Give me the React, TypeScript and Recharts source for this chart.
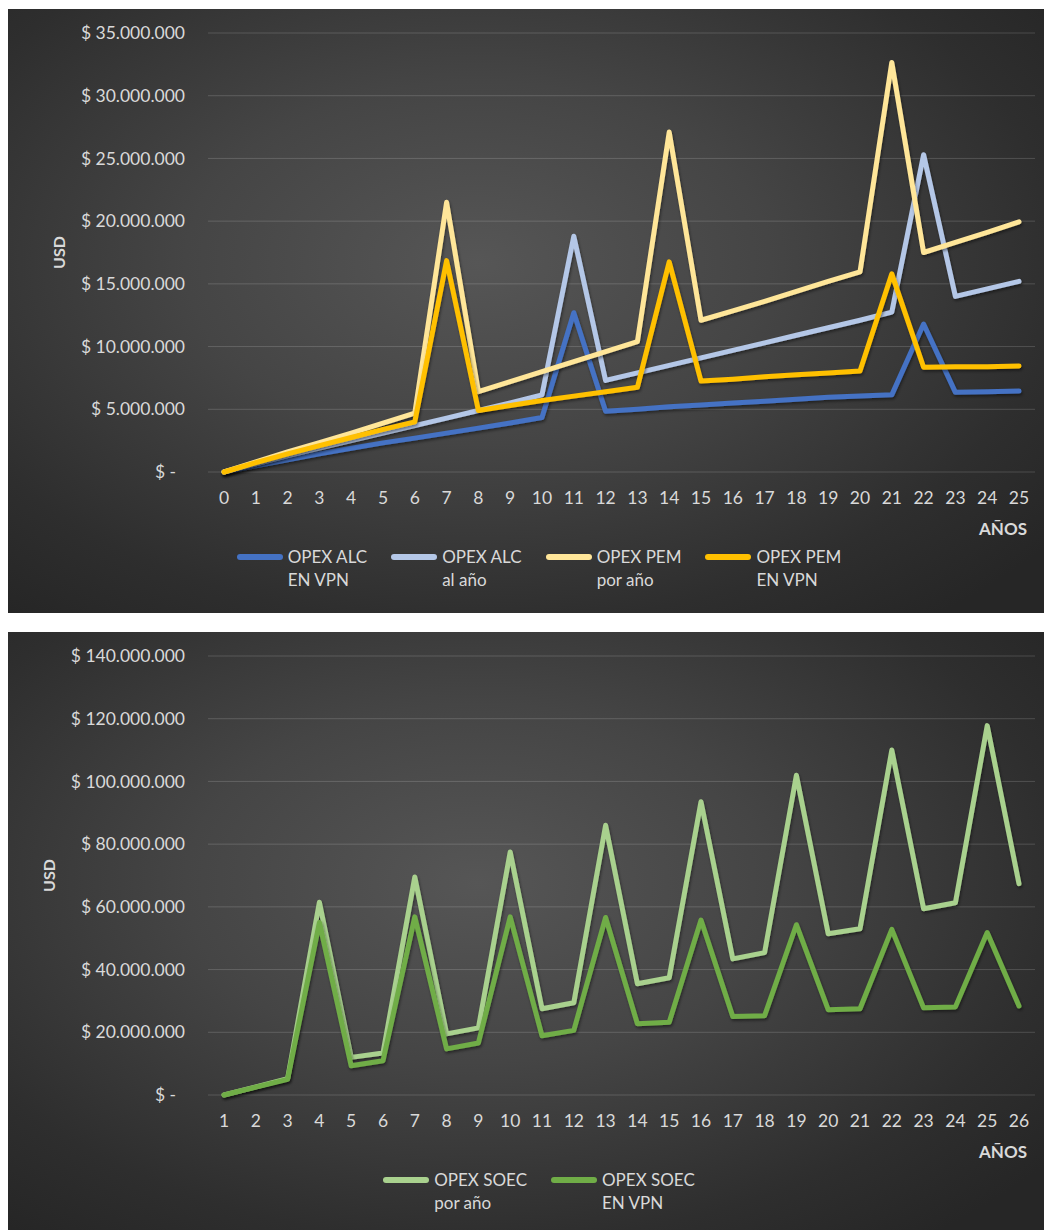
import { LineChart, Line, XAxis, YAxis, CartesianGrid, Legend } from 'recharts';

// values in millions of USD
const pemYears = [0, 1, 2, 3, 4, 5, 6, 7, 8, 9, 10, 11, 12, 13, 14, 15, 16, 17, 18, 19, 20, 21, 22, 23, 24, 25];
const alcVpn = [0, 0.5, 0.98, 1.45, 1.9, 2.32, 2.7, 3.1, 3.5, 3.9, 4.35, 12.7, 4.85, 5.0, 5.2, 5.35, 5.5, 5.65, 5.8, 5.95, 6.05, 6.15, 11.8, 6.35, 6.4, 6.45];
const alcAno = [0, 0.65, 1.3, 1.9, 2.5, 3.1, 3.7, 4.3, 4.9, 5.5, 6.15, 18.8, 7.3, 7.9, 8.5, 9.1, 9.7, 10.3, 10.9, 11.5, 12.1, 12.75, 25.3, 14.0, 14.6, 15.2];
const pemAno = [0, 0.8, 1.6, 2.35, 3.1, 3.9, 4.7, 21.5, 6.4, 7.2, 8.0, 8.8, 9.6, 10.4, 27.1, 12.1, 12.85, 13.6, 14.4, 15.2, 15.95, 32.65, 17.5, 18.3, 19.1, 19.95];
const pemVpn = [0, 0.75, 1.45, 2.1, 2.75, 3.4, 4.0, 16.85, 4.9, 5.3, 5.7, 6.05, 6.4, 6.75, 16.75, 7.25, 7.4, 7.6, 7.75, 7.9, 8.05, 15.8, 8.35, 8.4, 8.4, 8.45];
const pemTicks = [0, 5, 10, 15, 20, 25, 30, 35];

const soecYears = [1, 2, 3, 4, 5, 6, 7, 8, 9, 10, 11, 12, 13, 14, 15, 16, 17, 18, 19, 20, 21, 22, 23, 24, 25, 26];
const soecAno = [0, 2.6, 5.2, 61.5, 12.0, 13.4, 69.5, 19.5, 21.4, 77.5, 27.5, 29.4, 86.0, 35.5, 37.4, 93.5, 43.4, 45.4, 102.0, 51.4, 53.0, 110.0, 59.4, 61.3, 117.8, 67.4];
const soecVpn = [0, 2.5, 5.0, 55.0, 9.3, 10.9, 56.8, 14.7, 16.6, 56.8, 18.9, 20.6, 56.6, 22.7, 23.2, 55.8, 25.0, 25.3, 54.3, 27.2, 27.5, 52.8, 27.8, 28.1, 51.8, 28.4];
const soecTicks = [0, 20, 40, 60, 80, 100, 120, 140];

type Serie = { key: string; color: string; lines: [string, string]; values: number[] };

const pemSeries: Serie[] = [
  { key: 'alcVpn', color: '#4472C4', lines: ['OPEX ALC', 'EN VPN'], values: alcVpn },
  { key: 'alcAno', color: '#B4C7E7', lines: ['OPEX ALC', 'al año'], values: alcAno },
  { key: 'pemAno', color: '#FFE699', lines: ['OPEX PEM', 'por año'], values: pemAno },
  { key: 'pemVpn', color: '#FFC000', lines: ['OPEX PEM', 'EN VPN'], values: pemVpn },
];

const soecSeries: Serie[] = [
  { key: 'soecAno', color: '#A9D18E', lines: ['OPEX SOEC', 'por año'], values: soecAno },
  { key: 'soecVpn', color: '#70AD47', lines: ['OPEX SOEC', 'EN VPN'], values: soecVpn },
];

const TEXT = '#d9d9d9';
const FONT = 'Lato, "Open Sans", sans-serif';
const BG = 'radial-gradient(ellipse 70% 75% at 45% 42%, #565656 0%, #454545 40%, #2e2e2e 80%, #262626 100%)';

const formatUsd = (v: number) => {
  if (v === 0) return '$ -\u00A0\u00A0';
  const s = String(Math.round(v * 1000000)).replace(/\B(?=(\d{3})+(?!\d))/g, '.');
  return '$ ' + s;
};

function OpexChart({ id, years, series, yTicks, usdX }: { id: string; years: number[]; series: Serie[]; yTicks: number[]; usdX: number }) {
  const data = years.map((y, i) => {
    const row: Record<string, number> = { year: y };
    series.forEach((s) => { row[s.key] = s.values[i]; });
    return row;
  });

  // keep the series order (Recharts sorts the payload by name)
  const renderLegend = () => (
    <div style={{ display: 'flex', justifyContent: 'center', gap: 24, paddingLeft: 18, fontFamily: FONT }}>
      {series.map((s) => (
        <div key={s.key} style={{ display: 'flex', alignItems: 'flex-start' }}>
          <span style={{ display: 'inline-block', width: 46, height: 6, borderRadius: 3, background: s.color, marginTop: 9, marginRight: 5 }} />
          <div style={{ color: TEXT, fontSize: 17, lineHeight: '23px', textAlign: 'left' }}>
            {s.lines[0]}<br />{s.lines[1]}
          </div>
        </div>
      ))}
    </div>
  );

  const usdLabel = (props: any) => {
    const vb = props.viewBox || { x: 0, y: 24, width: 200, height: 439 };
    const x = vb.x + usdX;
    const y = vb.y + vb.height / 2;
    return (
      <text x={x} y={y} transform={`rotate(-90, ${x}, ${y})`} textAnchor="middle" dominantBaseline="central"
        fill={TEXT} fontSize={16} fontWeight="bold" fontFamily={FONT}>USD</text>
    );
  };

  return (
    <LineChart width={1044} height={604} data={data} margin={{ top: 24, right: 17, left: 0, bottom: 70 }}>
      <defs>
        <filter id={`shadow-${id}`} x="-10%" y="-10%" width="120%" height="130%">
          <feDropShadow dx="1" dy="2" stdDeviation="1.5" floodColor="#000" floodOpacity="0.45" />
        </filter>
      </defs>
      <CartesianGrid vertical={false} stroke="rgba(255,255,255,0.16)" strokeWidth={1} />
      <XAxis
        dataKey="year"
        interval={0}
        axisLine={false}
        tickLine={false}
        tickSize={0}
        tickMargin={20}
        height={71}
        padding={{ left: 16, right: 16 }}
        tick={{ fill: TEXT, fontSize: 17.5, fontFamily: FONT }}
        label={{ value: 'AÑOS', position: 'insideBottomRight', offset: 8, fill: TEXT, fontSize: 17, fontWeight: 'bold', fontFamily: FONT }}
      />
      <YAxis
        width={200}
        domain={[0, yTicks[yTicks.length - 1]]}
        ticks={yTicks}
        interval={0}
        axisLine={false}
        tickLine={false}
        tickSize={0}
        tickMargin={23}
        tickFormatter={formatUsd}
        tick={{ fill: TEXT, fontSize: 17.5, fontFamily: FONT }}
        label={usdLabel}
      />
      <Legend
        layout="horizontal"
        align="center"
        verticalAlign="middle"
        content={renderLegend}
        wrapperStyle={{ left: 0, top: 536, width: 1044 }}
      />
      {series.map((s) => (
        <Line
          key={s.key}
          type="linear"
          dataKey={s.key}
          stroke={s.color}
          strokeWidth={5}
          strokeLinejoin="round"
          strokeLinecap="round"
          dot={false}
          activeDot={false}
          filter={`url(#shadow-${id})`}
          isAnimationActive={false}
        />
      ))}
    </LineChart>
  );
}

export default function App() {
  return (
    <div style={{ fontFamily: FONT }}>
      <div style={{ marginTop: 1, width: 1044, height: 604, background: BG }}>
        <OpexChart id="pem" years={pemYears} series={pemSeries} yTicks={pemTicks} usdX={50} />
      </div>
      <div style={{ marginTop: 19, width: 1044, height: 598, background: BG, overflow: 'hidden' }}>
        <OpexChart id="soec" years={soecYears} series={soecSeries} yTicks={soecTicks} usdX={40} />
      </div>
    </div>
  );
}
